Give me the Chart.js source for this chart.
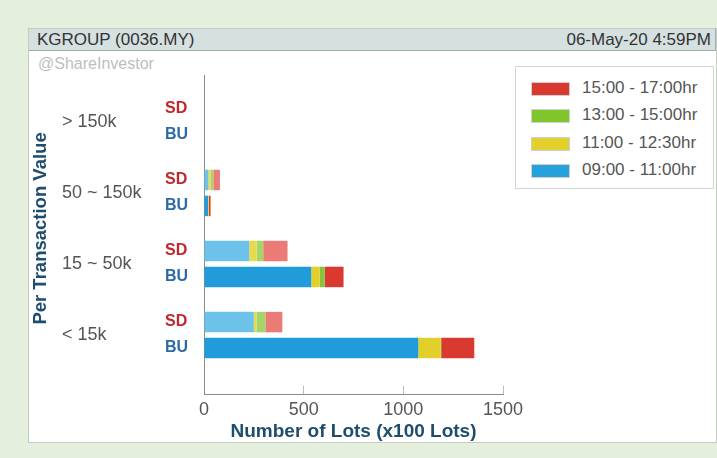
<!DOCTYPE html>
<html>
<head>
<meta charset="utf-8">
<script src="https://cdn.jsdelivr.net/npm/chart.js@4.4.1/dist/chart.umd.min.js"></script>
<style>
    body { margin: 0; width: 717px; height: 458px; background: #e4efdd; position: relative; overflow: hidden;
           font-family: "Liberation Sans", Arial, sans-serif; }
    #panel { position: absolute; left: 28px; top: 28px; width: 689px; height: 415px; box-sizing: border-box;
             background: #fff; border: 1px solid #c3cbc3; }
    #titlebar { position: absolute; left: 0; top: 0; right: 0; height: 22px; box-sizing: border-box;
                background: #d5e0e0; border-bottom: 1px solid #a3aea8; border-right: 1px solid #a3aea8;
                font-size: 17px; color: #333; line-height: 21px; padding: 0 4px 0 8px; }
    #titlebar .right { float: right; }
    #brand { position: absolute; left: 9px; top: 26px; font-size: 16px; color: #bdbdbd; }
    #chart { position: absolute; left: 0; top: 22px; }
    #legend { position: absolute; left: 486px; top: 37px; width: 199px; height: 123px; box-sizing: border-box;
              border: 1px solid #d4d4d4; background: #fff; padding-top: 13px; }
    .item { height: 27.3px; position: relative; }
    .swatch { position: absolute; left: 15px; top: 2px; width: 37px; height: 12px; border: 1px solid #d0d0d0; }
    .text { position: absolute; left: 66px; top: -2px; font-size: 17px; color: #555; }
</style>
</head>
<body>
<div id="panel">
    <div id="titlebar"><span>KGROUP (0036.MY)</span><span class="right">06-May-20 4:59PM</span></div>
    <div id="brand">@ShareInvestor</div>
    <canvas id="chart" width="687" height="392"></canvas>
    <div id="legend"></div>
</div>
<script>
// transaction value bands, top to bottom
const groups = ["> 150k", "50 ~ 150k", "15 ~ 50k", "< 15k"];
const sides = ["SD", "BU"];
const periods = ["09:00 - 11:00hr", "11:00 - 12:30hr", "13:00 - 15:00hr", "15:00 - 17:00hr"];

// number of lots (x100), one value per band
const sd0900 = [0, 22, 227, 250];
const sd1100 = [0, 11, 37, 13];
const sd1300 = [0, 14, 33, 45];
const sd1500 = [0, 33, 122, 85];
const bu0900 = [0, 20, 538, 1075];
const bu1100 = [0, 3, 42, 113];
const bu1300 = [0, 2, 25, 2];
const bu1500 = [0, 8, 95, 166];

const xTicks = [0, 500, 1000, 1500];

const sdColors = ["#6dc2ea", "#e7da4f", "#a6d466", "#ea7b76"];
const buColors = ["#1f9cd9", "#e2cf29", "#84c33a", "#d83a30"];
const legendColors = ["#25a1dc", "#e2d02c", "#80c52b", "#d9392f"];
const sideColors = ["#c0262c", "#2d6aa6"];
const FONT = '"Liberation Sans", Arial, sans-serif';

// band index -> position on the linear y axis (first band on top)
function toPoints(values) {
    return values.map((v, i) => ({ x: v, y: groups.length - 1 - i }));
}

const sdSeries = [sd0900, sd1100, sd1300, sd1500];
const buSeries = [bu0900, bu1100, bu1300, bu1500];

const datasets = [];
sdSeries.forEach((s, i) => datasets.push({ label: periods[i], stack: "SD", data: toPoints(s), backgroundColor: sdColors[i] }));
buSeries.forEach((s, i) => datasets.push({ label: periods[i], stack: "BU", data: toPoints(s), backgroundColor: buColors[i] }));

// legend, latest period first
const legend = document.getElementById("legend");
for (let i = periods.length - 1; i >= 0; i--) {
    const row = document.createElement("div");
    row.className = "item";
    row.innerHTML = `<span class="swatch" style="background:${legendColors[i]}"></span><span class="text">${periods[i]}</span>`;
    legend.appendChild(row);
}

// SD / BU labels, band labels and the y title
const sideLabels = {
    id: "sideLabels",
    afterDraw(chart) {
        const { ctx, scales: { y } } = chart;
        ctx.save();
        ctx.textBaseline = "middle";
        ctx.textAlign = "left";
        groups.forEach((g, i) => {
            ctx.font = "18px " + FONT;
            ctx.fillStyle = "#555";
            ctx.fillText(g, 33, y.getPixelForValue(groups.length - 1 - i));
            sides.forEach((s, k) => {
                const bar = chart.getDatasetMeta(k * periods.length).data[i];
                ctx.font = "bold 16px " + FONT;
                ctx.fillStyle = sideColors[k];
                ctx.fillText(s, 136, bar.y);
            });
        });
        const mid = (y.getPixelForValue(0) + y.getPixelForValue(groups.length - 1)) / 2;
        ctx.translate(12, mid);
        ctx.rotate(-Math.PI / 2);
        ctx.textAlign = "center";
        ctx.font = "bold 18.5px " + FONT;
        ctx.fillStyle = "#1f4d6d";
        ctx.fillText("Per Transaction Value", 0, 0);
        ctx.restore();
    }
};

new Chart(document.getElementById("chart"), {
    type: "bar",
    data: { datasets: datasets },
    options: {
        indexAxis: "y",
        responsive: false,
        animation: false,
        categoryPercentage: 0.73,
        barPercentage: 0.79,
        layout: { padding: { left: 0, right: 213, top: 24, bottom: 0 } },
        scales: {
            x: {
                type: "linear",
                stacked: true,
                min: xTicks[0],
                max: xTicks[xTicks.length - 1],
                afterBuildTicks: (scale) => { scale.ticks = xTicks.map(v => ({ value: v })); },
                ticks: { padding: 13, color: "#555", font: { size: 18, family: FONT }, callback: (v) => String(v) },
                grid: { drawOnChartArea: false, tickLength: -8, color: "#bbb" },
                border: { color: "#8a8a8a" },
                title: { display: true, text: "Number of Lots (x100 Lots)", color: "#1f4d6d",
                         font: { size: 19, weight: "bold", family: FONT }, padding: 0 },
                afterFit: (scale) => { scale.height = 49; }
            },
            y: {
                type: "linear",
                stacked: true,
                offset: false,
                bounds: "data",
                min: -0.83,
                max: 3.66,
                afterBuildTicks: (scale) => { scale.ticks = groups.map((g, i) => ({ value: i })); },
                ticks: { display: false },
                grid: { display: false, offset: false },
                border: { color: "#8a8a8a" },
                afterFit: (scale) => { scale.width = 175; }
            }
        },
        plugins: { legend: { display: false }, tooltip: { enabled: false } }
    },
    plugins: [sideLabels]
});
</script>
</body>
</html>
